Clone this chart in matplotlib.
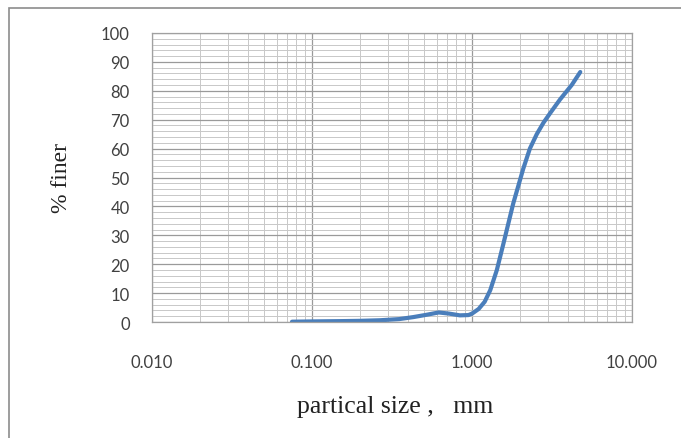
import matplotlib
matplotlib.use('Agg')
import matplotlib.pyplot as plt
from matplotlib.patches import Rectangle
from matplotlib.ticker import LogLocator, FixedLocator, NullFormatter, FuncFormatter
import numpy as np

# curve (size in mm, % finer)
size_mm = [0.075, 0.10, 0.15, 0.20, 0.266, 0.35, 0.43, 0.52, 0.62, 0.72,
           0.84, 0.95, 1.0, 1.10, 1.20, 1.30, 1.43, 1.57, 1.81, 2.09,
           2.3, 2.54, 2.8, 3.1, 3.55, 4.2, 4.75]
pct_finer = [0.1, 0.2, 0.3, 0.4, 0.6, 1.0, 1.7, 2.5, 3.3, 2.9,
             2.3, 2.4, 2.9, 4.5, 7.0, 11.0, 18.0, 27.0, 41.0, 53.0,
             60.0, 65.0, 69.0, 72.5, 77.0, 82.0, 86.5]

x_ticks = [0.01, 0.1, 1, 10]
y_ticks = list(range(0, 101, 10))

fig = plt.figure(figsize=(6.81, 4.39), dpi=100)
fig.patches.append(Rectangle((9 / 681, -0.01), 1.0, 1 - 9 / 439 + 0.01,
                             transform=fig.transFigure, fill=False,
                             edgecolor='#8c8c8c', linewidth=1.2))

ax = fig.add_axes([152 / 681, 1 - 323 / 439, 480 / 681, 289 / 439])
ax.set_xscale('log')
ax.set_xlim(0.01, 10)
ax.set_ylim(0, 100)

ax.xaxis.set_major_locator(FixedLocator(x_ticks))
ax.xaxis.set_minor_locator(LogLocator(base=10, subs=np.arange(2, 10)))
ax.xaxis.set_minor_formatter(NullFormatter())
ax.xaxis.set_major_formatter(FuncFormatter(lambda v, p: '%.3f' % v))
ax.yaxis.set_major_locator(FixedLocator(y_ticks))
ax.yaxis.set_minor_locator(FixedLocator(range(0, 101, 2)))

ax.grid(which='major', color='#9a9a9a', linewidth=0.9)
ax.grid(which='minor', color='#c8c8c8', linewidth=0.7)
ax.set_axisbelow(True)
for s in ax.spines.values():
    s.set_color('#a0a0a0')
    s.set_linewidth(0.9)
ax.tick_params(which='both', length=0)
ax.tick_params(axis='x', pad=23)
ax.tick_params(axis='y', pad=16)
for lab in ax.get_xticklabels() + ax.get_yticklabels():
    lab.set_fontfamily('Lato')
    lab.set_fontsize(12)
    lab.set_color('#404040')

ax.plot(size_mm, pct_finer, color='#4a7ebb', linewidth=3.0,
        solid_capstyle='round', solid_joinstyle='round')

ax.set_xlabel('partical size ,   mm', family='Liberation Serif', fontsize=18.5,
              color='#222222')
ax.set_ylabel('% finer', family='Liberation Serif', fontsize=17,
              color='#222222')
ax.xaxis.set_label_coords(0.506, -0.29)
ax.yaxis.set_label_coords(-0.1875, 0.5)
ax.xaxis.label.set_va('center')
ax.yaxis.label.set_va('center')

fig.savefig('out.png', dpi=100)
